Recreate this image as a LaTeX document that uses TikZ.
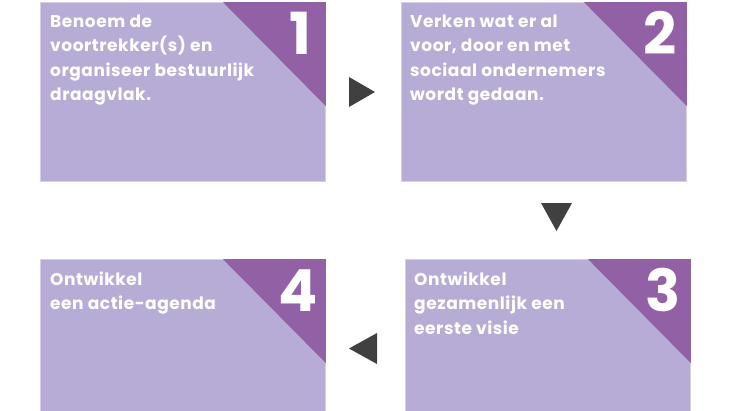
\documentclass[tikz,border=0pt]{standalone}
\usepackage{fontspec}
\setmainfont{Poppins}
\newfontfamily\stepfont[LetterSpace=3.2]{Poppins}
\definecolor{boxfill}{HTML}{B7ACD5}
\definecolor{boxedge}{HTML}{D6CFE7}
\definecolor{corner}{HTML}{9260A5}
\definecolor{arrowc}{HTML}{404040}
\tikzset{
  stepbox/.style={rectangle, fill=boxfill, draw=boxedge, line width=0.8pt, inner sep=0pt, minimum width=285pt, anchor=north west},
  steptext/.style={anchor=base west, inner sep=0pt, text=white, font=\stepfont\fontsize{17}{24.5}\selectfont\bfseries},
  stepnum/.style={anchor=base east, inner sep=0pt, text=white, font=\fontsize{58}{58}\selectfont\bfseries},
  tri/.style={fill=arrowc, draw=none}
}
\begin{document}
\begin{tikzpicture}[x=1pt,y=-1pt]
\useasboundingbox (0,0) rectangle (730,410);
% boxes
\node[stepbox, minimum height=179pt] (b1) at (40,2) {};
\node[stepbox, minimum height=179pt] (b2) at (401,2) {};
\node[stepbox, minimum height=155pt] (b3) at (405,259) {};
\node[stepbox, minimum height=155pt] (b4) at (40,259) {};
% corners
\foreach \b in {b1,b2,b3,b4}{
  \fill[corner] ([shift={(-103,0)}]\b.north east) -- (\b.north east) -- ([shift={(0,104)}]\b.north east) -- cycle;
}
% numbers
\node[stepnum] (n1) at ([shift={(-14,52)}]b1.north east) {1};
\node[stepnum] (n2) at ([shift={(-10,52)}]b2.north east) {2};
\node[stepnum] (n3) at ([shift={(-10,52)}]b3.north east) {3};
\node[stepnum] (n4) at ([shift={(-8,52)}]b4.north east) {4};
% texts
\node[steptext] (t1) at ([shift={(10,25)}]b1.north west) {\begin{tabular}[t]{@{}l@{}}Benoem de\\voortrekker(s) en\\organiseer bestuurlijk\\draagvlak.\end{tabular}};
\node[steptext] (t2) at ([shift={(9,25)}]b2.north west) {\begin{tabular}[t]{@{}l@{}}Verken wat er al\\voor, door en met\\sociaal ondernemers\\wordt gedaan.\end{tabular}};
\node[steptext] (t3) at ([shift={(9,26)}]b3.north west) {\begin{tabular}[t]{@{}l@{}}Ontwikkel\\gezamenlijk een\\eerste visie\end{tabular}};
\node[steptext] (t4) at ([shift={(10,26)}]b4.north west) {\begin{tabular}[t]{@{}l@{}}Ontwikkel\\een actie-agenda\end{tabular}};
% arrows
\coordinate (a12) at (362,92);
\coordinate (a23) at (556.5,217);
\coordinate (a34) at (363,348.5);
\fill[tri] ([shift={(-13,-15)}]a12) -- ([shift={(13,0)}]a12) -- ([shift={(-13,15)}]a12) -- cycle;
\fill[tri] ([shift={(-15.5,-14)}]a23) -- ([shift={(15.5,-14)}]a23) -- ([shift={(0,14)}]a23) -- cycle;
\fill[tri] ([shift={(14,-15.5)}]a34) -- ([shift={(-14,0)}]a34) -- ([shift={(14,15.5)}]a34) -- cycle;
\end{tikzpicture}
\end{document}
